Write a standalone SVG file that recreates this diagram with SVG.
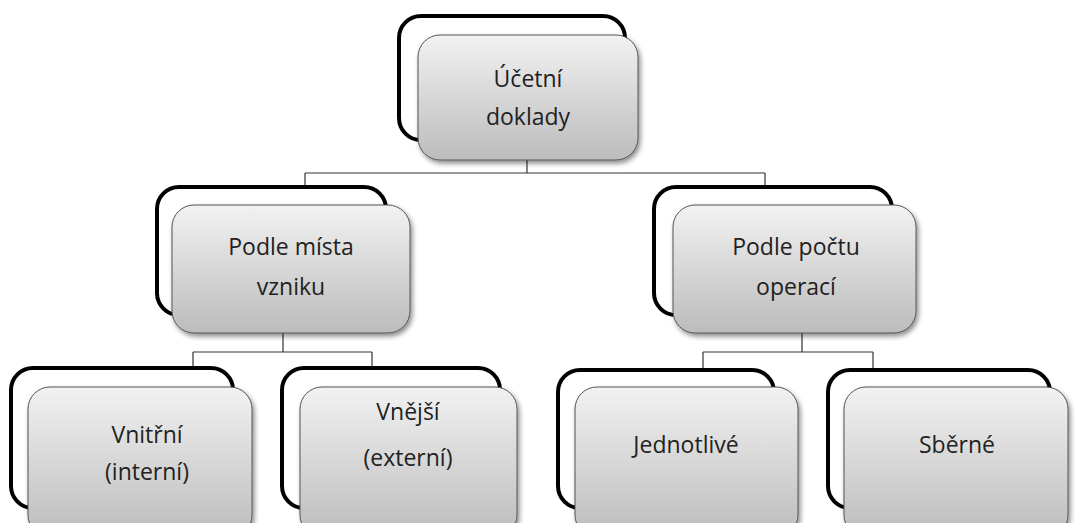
<svg xmlns="http://www.w3.org/2000/svg" width="1090" height="523" viewBox="0 0 1090 523">
<defs>
<linearGradient id="g" x1="0" y1="0" x2="0" y2="1">
<stop offset="0" stop-color="#f2f2f2"/>
<stop offset="1" stop-color="#bcbcbc"/>
</linearGradient>
<filter id="sh" x="-10%" y="-10%" width="125%" height="130%">
<feDropShadow dx="2" dy="3" stdDeviation="2.5" flood-color="#000" flood-opacity="0.45"/>
</filter>
<style>
.back{fill:#fff;stroke:#000;stroke-width:4}
.front{fill:url(#g);stroke:#555;stroke-width:1;filter:url(#sh)}
.t{font-family:"Open Sans","Liberation Sans",sans-serif;font-size:23px;fill:#222;text-anchor:middle}
.c{fill:none;stroke:#333;stroke-width:1.2}
</style>
</defs>
<g id="connectors">
<path class="c" d="M527 160V173M305 173H765M305 173V187M765 173V187"/>
<path class="c" d="M283 333V352M193 352H372M193 352V368M372 352V368"/>
<path class="c" d="M802 333V352M703 352H873M703 352V370M873 352V370"/>
</g>
<g id="n-ucetni">
<rect class="back" x="399" y="16" width="226" height="124" rx="22"/>
<rect class="front" x="418" y="35" width="220" height="125" rx="22"/>
<text class="t" x="528" y="87">Účetní</text>
<text class="t" x="528" y="125">doklady</text>
</g>
<g id="n-mista">
<rect class="back" x="157" y="187" width="229" height="128" rx="22"/>
<rect class="front" x="172" y="205" width="238" height="128" rx="22"/>
<text class="t" x="291" y="255">Podle místa</text>
<text class="t" x="291" y="295">vzniku</text>
</g>
<g id="n-poctu">
<rect class="back" x="654" y="187" width="238" height="128" rx="22"/>
<rect class="front" x="673" y="205" width="243" height="128" rx="22"/>
<text class="t" x="796" y="255">Podle počtu</text>
<text class="t" x="796" y="295">operací</text>
</g>
<g id="n-vnitrni">
<rect class="back" x="11" y="368" width="222" height="140" rx="22"/>
<rect class="front" x="28" y="387" width="224" height="150" rx="22"/>
<text class="t" x="147" y="443">Vnitřní</text>
<text class="t" x="147" y="480">(interní)</text>
</g>
<g id="n-vnejsi">
<rect class="back" x="282" y="368" width="218" height="140" rx="22"/>
<rect class="front" x="300" y="387" width="217" height="150" rx="22"/>
<text class="t" x="408" y="420">Vnější</text>
<text class="t" x="408" y="466">(externí)</text>
</g>
<g id="n-jednotlive">
<rect class="back" x="558" y="370" width="216" height="138" rx="22"/>
<rect class="front" x="575" y="387" width="223" height="150" rx="22"/>
<text class="t" x="686" y="453">Jednotlivé</text>
</g>
<g id="n-sberne">
<rect class="back" x="828" y="370" width="222" height="138" rx="22"/>
<rect class="front" x="844" y="387" width="224" height="150" rx="22"/>
<text class="t" x="957" y="453">Sběrné</text>
</g>
</svg>
